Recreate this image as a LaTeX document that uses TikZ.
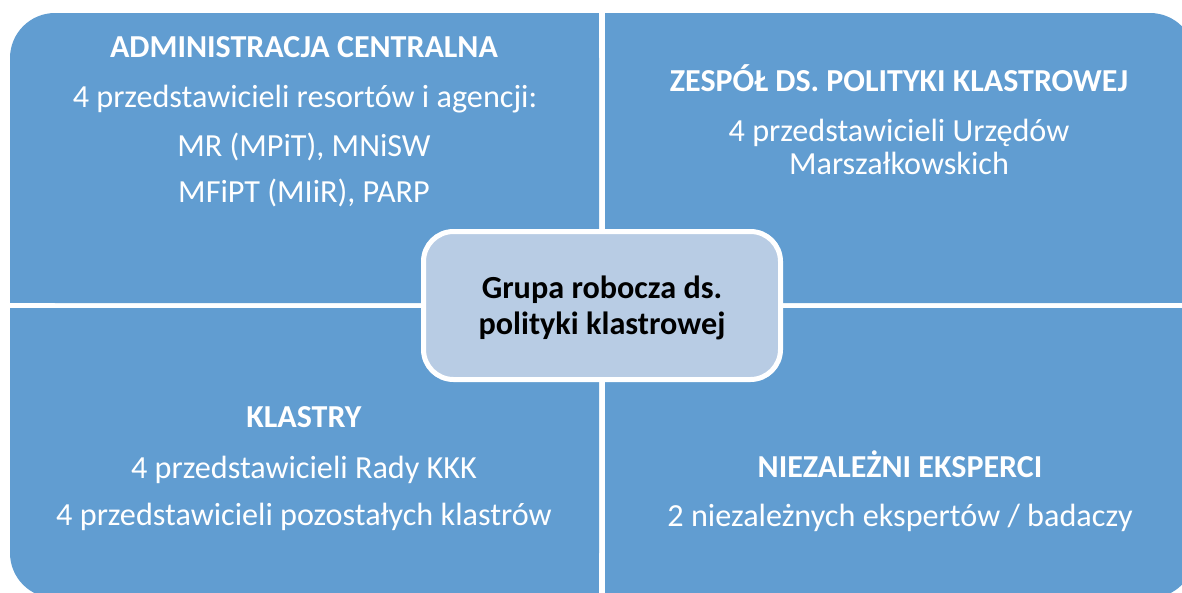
\documentclass[tikz,border=0pt]{standalone}
\usepackage{fontspec}
\setmainfont{Carlito}
\definecolor{quad}{RGB}{97,157,209}
\definecolor{core}{RGB}{184,204,228}
\begin{document}
\begin{tikzpicture}[x=1pt,y=-1pt,
  txt/.style={text=white, anchor=base, inner sep=0pt, font=\fontsize{32.2}{38}\selectfont},
  ttl/.style={text=white, anchor=base, inner sep=0pt, font=\fontsize{32}{38}\selectfont\bfseries},
  coretxt/.style={text=black, anchor=base, inner sep=0pt, font=\fontsize{32.2}{38}\selectfont\bfseries},
  corebox/.style={draw=white, line width=5pt, fill=core, rounded corners=30pt, minimum width=357pt, minimum height=148pt, inner sep=0pt}]
\useasboundingbox (0,0) rectangle (1182,592);
\clip (0,0) rectangle (1182,592);
% top left
\fill[quad, rounded corners=45pt] (10,13) rectangle (599,303);
\fill[quad] (10,80) rectangle (599,303);
\fill[quad] (80,13) rectangle (599,303);
% top right
\fill[quad, rounded corners=45pt] (605,13) rectangle (1195,303);
\fill[quad] (605,80) rectangle (1195,303);
\fill[quad] (605,13) rectangle (1120,303);
% bottom left
\fill[quad, rounded corners=45pt] (10,308) rectangle (599,598);
\fill[quad] (10,308) rectangle (599,530);
\fill[quad] (80,308) rectangle (599,598);
% bottom right
\fill[quad, rounded corners=45pt] (605,308) rectangle (1195,598);
\fill[quad] (605,308) rectangle (1195,530);
\fill[quad] (605,308) rectangle (1120,598);
% texts top left
\node[ttl] (tl1) at (304,57) {ADMINISTRACJA CENTRALNA};
\node[txt] (tl2) at (305,107) {4 przedstawicieli resortów i agencji:};
\node[txt] (tl3) at (304,156) {MR (MPiT), MNiSW};
\node[txt] (tl4) at (304,202) {MFiPT (MIiR), PARP};
% texts top right
\node[ttl] (tr1) at (899,91) {ZESPÓŁ DS. POLITYKI KLASTROWEJ};
\node[txt] (tr2) at (899,141) {4 przedstawicieli Urzędów};
\node[txt] (tr3) at (899,174) {Marszałkowskich};
% texts bottom left
\node[ttl] (bl1) at (304,427) {KLASTRY};
\node[txt] (bl2) at (304,478) {4 przedstawicieli Rady KKK};
\node[txt] (bl3) at (304,525) {4 przedstawicieli pozostałych klastrów};
% texts bottom right
\node[ttl] (br1) at (900,477) {NIEZALEŻNI EKSPERCI};
\node[txt] (br2) at (900,526) {2 niezależnych ekspertów / badaczy};
% centre
\node[corebox] (core) at (602,305.5) {};
\node[coretxt] (c1) at (602,298) {Grupa robocza ds.};
\node[coretxt] (c2) at (602,334) {polityki klastrowej};
\end{tikzpicture}
\end{document}
